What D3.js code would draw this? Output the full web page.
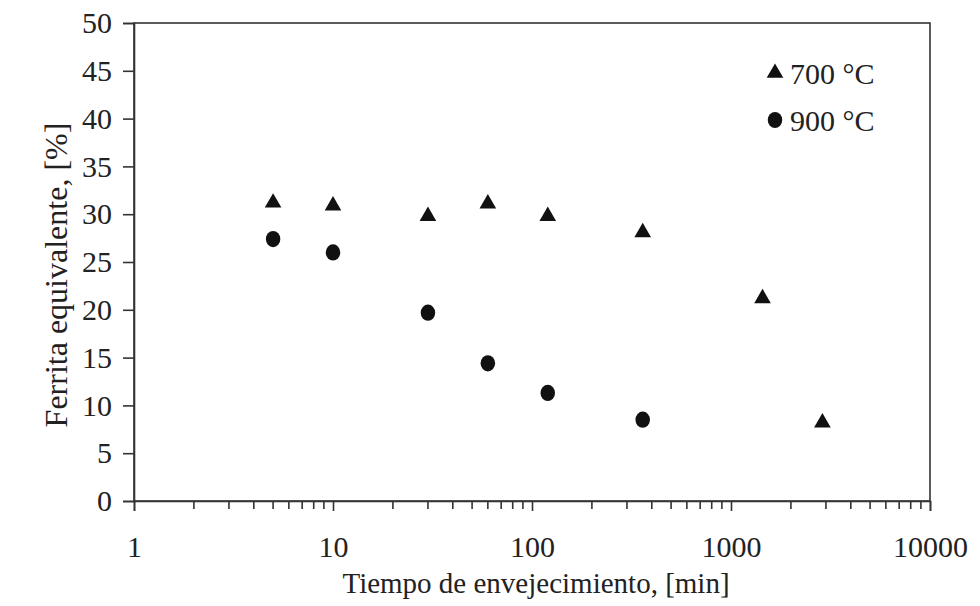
<!DOCTYPE html>
<html>
<head>
<meta charset="utf-8">
<script src="https://cdn.jsdelivr.net/npm/d3@7"></script>
<style>
  body { margin: 0; background: #fff; }
  svg text { font-family: "Liberation Serif", "DejaVu Serif", serif; fill: #222; }
</style>
</head>
<body>
<div id="chart"></div>
<script>
// Data
const tiempo700 = [5, 10, 30, 60, 120, 360, 1440, 2880];
const ferrita700 = [31.3, 31.0, 29.9, 31.2, 29.9, 28.2, 21.3, 8.3];
const tiempo900 = [5, 10, 30, 60, 120, 360];
const ferrita900 = [27.4, 26.0, 19.7, 14.4, 11.3, 8.5];
const xTicks = [1, 10, 100, 1000, 10000];
const yTicks = [0, 5, 10, 15, 20, 25, 30, 35, 40, 45, 50];
const seriesNames = ['700 °C', '900 °C'];

const W = 980, H = 606;
const margin = { top: 23, right: 50, bottom: 105, left: 134 };
const width = W - margin.left - margin.right;
const height = H - margin.top - margin.bottom;

const svg = d3.select('#chart').append('svg')
    .attr('width', W).attr('height', H);
const g = svg.append('g')
    .attr('transform', `translate(${margin.left},${margin.top})`);

const x = d3.scaleLog().domain([1, 10000]).range([0, width]);
const y = d3.scaleLinear().domain([0, 50]).range([height, 0]);

// box
g.append('rect')
    .attr('width', width).attr('height', height)
    .attr('fill', 'none').attr('stroke', '#333').attr('stroke-width', 1.6);

// minor x ticks
const minor = [];
for (let d = 1; d < 10000; d *= 10) for (let k = 2; k <= 9; k++) minor.push(d * k);

const xAxis = g.append('g')
    .attr('transform', `translate(0,${height})`)
    .call(d3.axisBottom(x).tickValues(xTicks).tickFormat(d3.format('d')).tickSize(10).tickPadding(25));
xAxis.append('g').selectAll('line').data(minor).join('line')
    .attr('x1', d => x(d)).attr('x2', d => x(d))
    .attr('y1', 0).attr('y2', 8)
    .attr('stroke', '#333').attr('stroke-width', 1.6);

const yAxis = g.append('g')
    .call(d3.axisLeft(y).tickValues(yTicks).tickSize(11).tickPadding(11));

[xAxis, yAxis].forEach(a => {
  a.select('.domain').attr('stroke', '#333').attr('stroke-width', 1.6);
  a.selectAll('.tick line').attr('stroke', '#333').attr('stroke-width', 1.6);
  a.selectAll('text').style('font-size', '30px').attr('fill', '#222')
      .style('font-family', '"Liberation Serif", serif');
});

// markers
const tri = d3.symbol().type(d3.symbolTriangle).size(120);
const dot = d3.symbol().type(d3.symbolCircle).size(165);

g.append('g').selectAll('path')
    .data(tiempo700.map((t, i) => [t, ferrita700[i]]))
    .join('path')
    .attr('d', tri)
    .attr('transform', d => `translate(${x(d[0])},${y(d[1]) + 1})`)
    .attr('fill', '#111');

g.append('g').selectAll('path')
    .data(tiempo900.map((t, i) => [t, ferrita900[i]]))
    .join('path')
    .attr('d', dot)
    .attr('transform', d => `translate(${x(d[0])},${y(d[1])}) scale(1,1.12)`)
    .attr('fill', '#111');

// legend
const legend = g.append('g').attr('transform', `translate(${775 - margin.left},0)`);
legend.append('path').attr('d', tri)
    .attr('transform', `translate(0,${73 - margin.top})`).attr('fill', '#111');
legend.append('path').attr('d', dot)
    .attr('transform', `translate(0,${120 - margin.top}) scale(1,1.12)`).attr('fill', '#111');
legend.selectAll('text').data(seriesNames).join('text')
    .attr('x', 15)
    .attr('y', (d, i) => 73 - margin.top + i * 47)
    .attr('dy', '0.35em')
    .style('font-size', '30px')
    .text(d => d);

// axis titles
svg.append('text')
    .attr('x', 536).attr('y', 593)
    .attr('text-anchor', 'middle')
    .style('font-size', '29px')
    .text('Tiempo de envejecimiento, [min]');

svg.append('text')
    .attr('transform', `translate(67,275) rotate(-90)`)
    .attr('text-anchor', 'middle')
    .style('font-size', '32px')
    .text('Ferrita equivalente, [%]');
</script>
</body>
</html>
